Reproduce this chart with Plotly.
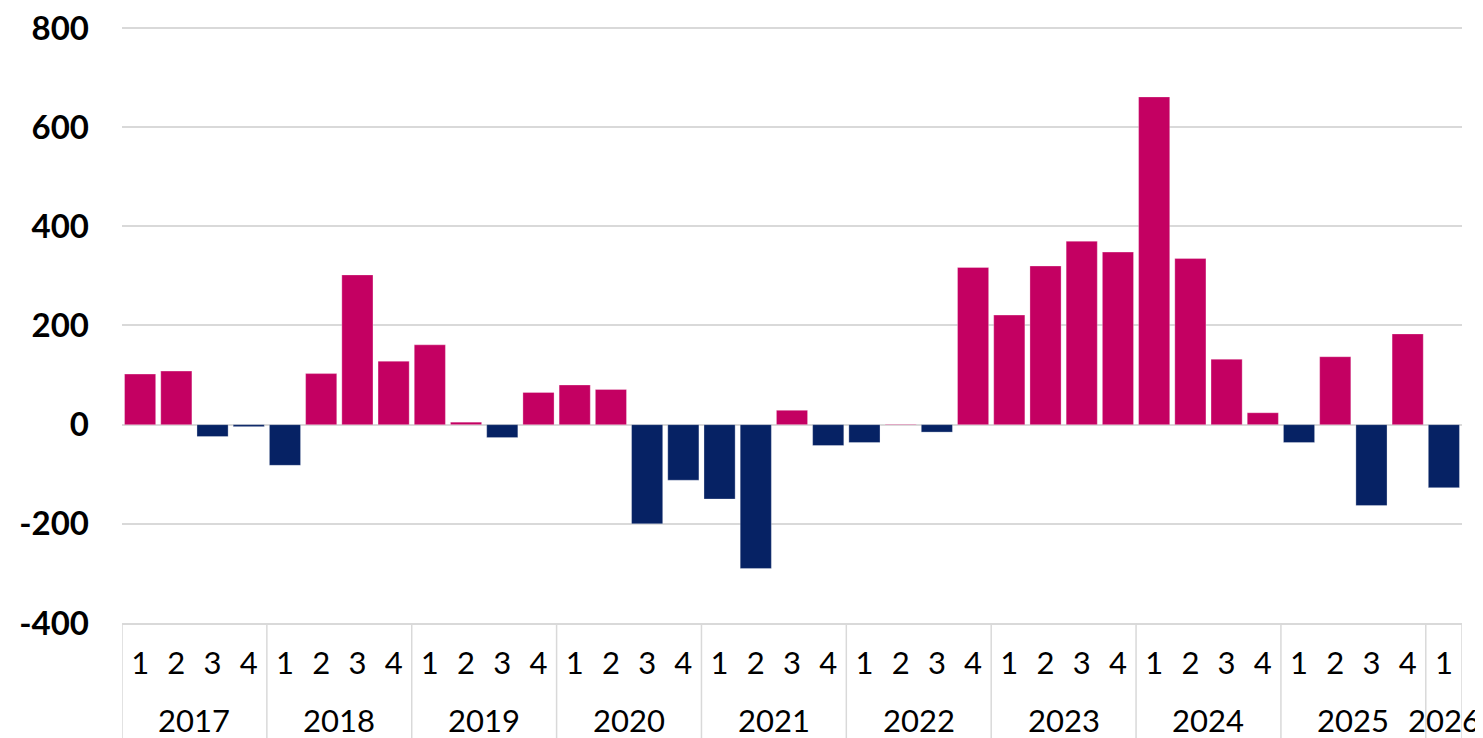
import plotly.graph_objects as go

years = ["2017"]*4 + ["2018"]*4 + ["2019"]*4 + ["2020"]*4 + ["2021"]*4 + ["2022"]*4 + ["2023"]*4 + ["2024"]*4 + ["2025"]*4 + ["2026"]
quarters = ["1", "2", "3", "4"]*9 + ["1"]
values = [102, 108, -24, -4,
          -82, 103, 302, 128,
          161, 5, -26, 65,
          80, 71, -200, -112,
          -150, -290, 29, -42,
          -36, 1, -15, 317,
          221, 320, 370, 348,
          661, 335, 132, 24,
          -36, 137, -163, 183,
          -127]
y_ticks = [-400, -200, 0, 200, 400, 600, 800]
y_ticktext = ["-400", "-200", "0", "200", "400", "600", "800"]

POS = "#C40062"
NEG = "#062264"
GRID = "#D9D9D9"
colors = [POS if v >= 0 else NEG for v in values]
idx = list(range(len(values)))

fig = go.Figure(go.Bar(
    x=idx, y=values,
    marker=dict(color=colors, line=dict(color="rgba(255,255,255,0.5)", width=0.6)),
))

# year groups derived from data
groups = []
for i, yr in enumerate(years):
    if not groups or groups[-1][0] != yr:
        groups.append([yr, i, i])
    else:
        groups[-1][2] = i

shapes = []
annotations = []
for yr, a, b in groups:
    shapes.append(dict(type="line", xref="x", yref="paper", x0=a - 0.5, x1=a - 0.5,
                       y0=0, y1=-0.2, line=dict(color=GRID, width=1.5)))
    annotations.append(dict(xref="x", yref="paper", x=(a + b) / 2, y=-0.1625,
                            text=yr, showarrow=False, yanchor="middle",
                            font=dict(family="Lato", size=31, color="black")))
last_end = groups[-1][2] + 0.5
shapes.append(dict(type="line", xref="x", yref="paper", x0=last_end, x1=last_end,
                   y0=0, y1=-0.2, line=dict(color=GRID, width=1.5)))

fig.update_layout(
    width=1475, height=730,
    margin=dict(l=114, r=21, t=18, b=115),
    paper_bgcolor="white", plot_bgcolor="white",
    bargap=0.14,
    showlegend=False,
    font=dict(family="Lato", color="black"),
    shapes=shapes, annotations=annotations,
)
fig.update_yaxes(
    range=[-400, 804], tickvals=y_ticks, ticktext=y_ticktext,
    showgrid=True, gridcolor=GRID, gridwidth=1.5,
    zeroline=True, zerolinecolor=GRID, zerolinewidth=2,
    tickfont=dict(family="Lato", size=33, weight="bold", color="black"),
    ticklabelstandoff=32, ticklabeloverflow="allow", automargin=False,
)
fig.update_xaxes(
    range=[-0.5, len(values) - 0.5],
    tickvals=idx, ticktext=quarters,
    showgrid=False, zeroline=False,
    showline=True, linecolor=GRID, linewidth=1.5,
    ticks="", ticklabelstandoff=12, ticklabeloverflow="allow",
    tickfont=dict(family="Lato", size=31, color="black"),
    automargin=False,
)

fig.write_html("out.html")
